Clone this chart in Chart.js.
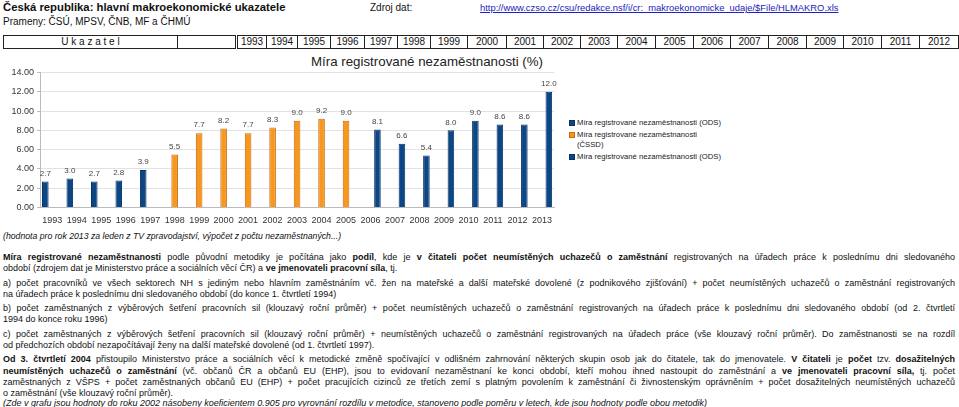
<!DOCTYPE html>
<html lang="cs">
<head>
<meta charset="utf-8">
<script src="https://cdn.jsdelivr.net/npm/chart.js@4.4.1/dist/chart.umd.min.js"></script>
<style>
  html, body { margin: 0; padding: 0; background: #fff; }
  body { width: 959px; height: 407px; position: relative; overflow: hidden;
         font-family: "Liberation Sans", Arial, Helvetica, sans-serif; color: #111; }
  .abs { position: absolute; white-space: nowrap; }
  #title { left: 3px; top: 1px; font-size: 11.3px; font-weight: bold; }
  #src { left: 3px; top: 16px; font-size: 10px; }
  #zdroj { left: 370px; top: 2px; font-size: 10px; }
  #link { left: 480px; top: 2px; font-size: 9.4px; color: #2222bb; text-decoration: underline; }
  #tbl { position: absolute; left: 3px; top: 35px; border-collapse: collapse; font-size: 10px; }
  #tbl td { border: 1px solid #222; height: 12px; padding: 0; text-align: center; line-height: 12px; }
  #tbl td.dbl { border-left: 3px double #222; }
  #ctitle { left: 311px; top: 54px; font-size: 13.3px; color: #222; }
  #wrap { position: absolute; left: 0; top: 60px; width: 560px; height: 165px; }
  #legend { position: absolute; left: 569px; top: 118px; font-size: 7.7px; color: #222; line-height: 10.5px; }
  #legend div { position: relative; padding-left: 8px; margin-bottom: 1px; width: 170px; }
  #legend div.narrow { width: 122px; }
  #legend span.box { position: absolute; left: 0; top: 2px; width: 4px; height: 4px; }
  #legend div.narrow + div { margin-top: 1px; }
  #note { left: 3px; top: 231px; font-size: 8.7px; font-style: italic; }
  #body { position: absolute; left: 3px; top: 252px; width: 952px; font-size: 9px; line-height: 11.3px; }
  #body .p { margin: 0 0 3px 0; }
  #body .p.od { margin: 0 0 -1.5px 0; }
  #body .l { text-align: justify; text-align-last: justify; white-space: nowrap; }
  #body .l.e { text-align: left; text-align-last: left; }
</style>
</head>
<body>
<div class="abs" id="title">Česká republika: hlavní makroekonomické ukazatele</div>
<div class="abs" id="src">Prameny: ČSÚ, MPSV, ČNB, MF a ČHMÚ</div>
<div class="abs" id="zdroj">Zdroj dat:</div>
<div class="abs" id="link">http://www.czso.cz/csu/redakce.nsf/i/cr:_makroekonomicke_udaje/$File/HLMAKRO.xls</div>
<table id="tbl"><tr id="tblrow"></tr></table>
<div class="abs" id="ctitle">Míra registrované nezaměstnanosti (%)</div>
<div id="wrap"><canvas id="c"></canvas></div>
<div id="legend"></div>
<div class="abs" id="note">(hodnota pro rok 2013 za leden z TV zpravodajství, výpočet z počtu nezaměstnaných...)</div>
<div id="body">
<div class="p">
<div class="l"><b>Míra registrované nezaměstnanosti</b> podle původní metodiky je počítána jako <b>podíl</b>, kde je <b>v čitateli počet neumístěných uchazečů o zaměstnání</b> registrovaných na úřadech práce k poslednímu dni sledovaného</div>
<div class="l e">období (zdrojem dat je Ministerstvo práce a sociálních věcí ČR) a <b>ve jmenovateli pracovní síla</b>, tj.</div>
</div>
<div class="p">
<div class="l">a) počet pracovníků ve všech sektorech NH s jediným nebo hlavním zaměstnáním vč. žen na mateřské a další mateřské dovolené (z podnikového zjišťování) + počet neumístěných uchazečů o zaměstnání registrovaných</div>
<div class="l e">na úřadech práce k poslednímu dni sledovaného období (do konce 1. čtvrtletí 1994)</div>
</div>
<div class="p">
<div class="l">b) počet zaměstnaných z výběrových šetření pracovních sil (klouzavý roční průměr) + počet neumístěných uchazečů o zaměstnání registrovaných na úřadech práce k poslednímu dni sledovaného období (od 2. čtvrtletí</div>
<div class="l e">1994 do konce roku 1996)</div>
</div>
<div class="p">
<div class="l">c) počet zaměstnaných z výběrových šetření pracovních sil (klouzavý roční průměr) + neumístěných uchazečů o zaměstnání registrovaných na úřadech práce (vše klouzavý roční průměr). Do zaměstnanosti se na rozdíl</div>
<div class="l e">od předchozích období nezapočítávají ženy na další mateřské dovolené (od 1. čtvrtletí 1997).</div>
</div>
<div class="p od">
<div class="l"><b>Od 3. čtvrtletí 2004</b> přistoupilo Ministerstvo práce a sociálních věcí k metodické změně spočívající v odlišném zahrnování některých skupin osob jak do čitatele, tak do jmenovatele. <b>V čitateli</b> je <b>počet</b> tzv. <b>dosažitelných</b></div>
<div class="l"><b>neumístěných uchazečů o zaměstnání</b> (vč. občanů ČR a občanů EU (EHP), jsou to evidovaní nezaměstnaní ke konci období, kteří mohou ihned nastoupit do zaměstnání a <b>ve jmenovateli pracovní síla,</b> tj. počet</div>
<div class="l">zaměstnaných z VŠPS + počet zaměstnaných občanů EU (EHP) + počet pracujících cizinců ze třetích zemí s platným povolením k zaměstnání či živnostenským oprávněním + počet dosažitelných neumístěných uchazečů</div>
<div class="l e">o zaměstnání (vše klouzavý roční průměr).</div>
</div>
<div class="p">
<div class="l e"><i>(Zde v grafu jsou hodnoty do roku 2002 násobeny koeficientem 0.905 pro vyrovnání rozdílu v metodice, stanoveno podle poměru v letech, kde jsou hodnoty podle obou metodik)</i></div>
</div>
</div>
<script>
// ---- data ----
const years = ['1993','1994','1995','1996','1997','1998','1999','2000','2001','2002','2003','2004','2005','2006','2007','2008','2009','2010','2011','2012','2013'];
const tableYears = ['1993','1994','1995','1996','1997','1998','1999','2000','2001','2002','2003','2004','2005','2006','2007','2008','2009','2010','2011','2012'];
const odsEarly = [2.7, 3.0, 2.7, 2.8, 3.9, null, null, null, null, null, null, null, null, null, null, null, null, null, null, null, null];
const cssd     = [null, null, null, null, null, 5.5, 7.7, 8.2, 7.7, 8.3, 9.0, 9.2, 9.0, null, null, null, null, null, null, null, null];
const odsLate  = [null, null, null, null, null, null, null, null, null, null, null, null, null, 8.1, 6.6, 5.4, 8.0, 9.0, 8.6, 8.6, 12.0];
const seriesNames = ['Míra registrované nezaměstnanosti (ODS)', 'Míra registrované nezaměstnanosti (ČSSD)', 'Míra registrované nezaměstnanosti (ODS)'];
const yTicks = [0, 2, 4, 6, 8, 10, 12, 14];

// ---- header table ----
const colW = [173, 57];
const yearW = [28, 30, 32, 33, 32, 32, 36, 38, 36, 36, 36, 37, 37, 36, 37, 37, 36, 37, 37, 38];
const row = document.getElementById('tblrow');
let td = document.createElement('td'); td.style.width = colW[0] + 'px'; td.textContent = 'U k a z a t e l'; row.appendChild(td);
td = document.createElement('td'); td.style.width = colW[1] + 'px'; row.appendChild(td);
tableYears.forEach((y, i) => {
  const c = document.createElement('td');
  c.style.width = yearW[i] + 'px';
  if (i === 0) c.className = 'dbl';
  c.textContent = y; row.appendChild(c);
});

// ---- legend ----
const BLUE = '#0d4684', BLUE_B = '#083465', ORANGE = '#f8961d', ORANGE_B = '#c46d0c';
const legColors = [[BLUE, BLUE_B], [ORANGE, ORANGE_B], [BLUE, BLUE_B]];
const leg = document.getElementById('legend');
seriesNames.forEach((n, i) => {
  const d = document.createElement('div');
  const b = document.createElement('span'); b.className = 'box';
  b.style.background = legColors[i][0]; b.style.border = '1px solid ' + legColors[i][1];
  d.appendChild(b);
  d.appendChild(document.createTextNode(n));
  if (i === 1) d.className = 'narrow';
  leg.appendChild(d);
});

// ---- value labels plugin ----
const valueLabels = {
  id: 'valueLabels',
  afterDatasetsDraw(chart) {
    const ctx = chart.ctx;
    ctx.save();
    ctx.font = '8px "Liberation Sans", Arial, sans-serif';
    ctx.fillStyle = '#444';
    ctx.textAlign = 'center';
    ctx.textBaseline = 'bottom';
    chart.data.datasets.forEach((ds, di) => {
      const meta = chart.getDatasetMeta(di);
      meta.data.forEach((el, i) => {
        const v = ds.data[i];
        if (v === null || v === undefined) return;
        ctx.fillText(v.toFixed(1), el.x, el.y - 4);
      });
    });
    ctx.restore();
  }
};

const mk = (data, i) => ({
  label: seriesNames[i], data,
  backgroundColor: legColors[i][0], borderColor: legColors[i][1], borderWidth: 1,
  categoryPercentage: 0.85, barPercentage: 0.95
});

new Chart(document.getElementById('c'), {
  type: 'bar',
  data: { labels: years, datasets: [mk(odsEarly, 0), mk(cssd, 1), mk(odsLate, 2)] },
  plugins: [valueLabels],
  options: {
    responsive: true, maintainAspectRatio: false, animation: false,
    layout: { padding: { top: 12.5, right: 4, bottom: 0, left: 0 } },
    plugins: { legend: { display: false }, tooltip: { enabled: false } },
    scales: {
      x: {
        offset: true,
        grid: { display: true, drawTicks: false, color: (c) => (c.index === years.length ? '#d4d4d4' : 'rgba(0,0,0,0)') },
        border: { display: true, color: '#bbbbbb' },
        ticks: { color: '#333', font: { size: 9, family: '"Liberation Sans", Arial, sans-serif' }, padding: 8, maxRotation: 0, autoSkip: false },
        afterFit: (s) => { s.height = 17.5; }
      },
      y: {
        min: 0, max: 14,
        afterBuildTicks: (s) => { s.ticks = yTicks.map(v => ({ value: v })); },
        grid: { color: '#e2e2e2', tickLength: 3, tickColor: '#bbbbbb' },
        border: { display: true, color: '#bbbbbb' },
        ticks: { color: '#333', font: { size: 9, family: '"Liberation Sans", Arial, sans-serif' }, padding: 3,
                 callback: (v) => Number(v).toFixed(2) },
        afterFit: (s) => { s.width = 40; }
      }
    }
  }
});
</script>
</body>
</html>
